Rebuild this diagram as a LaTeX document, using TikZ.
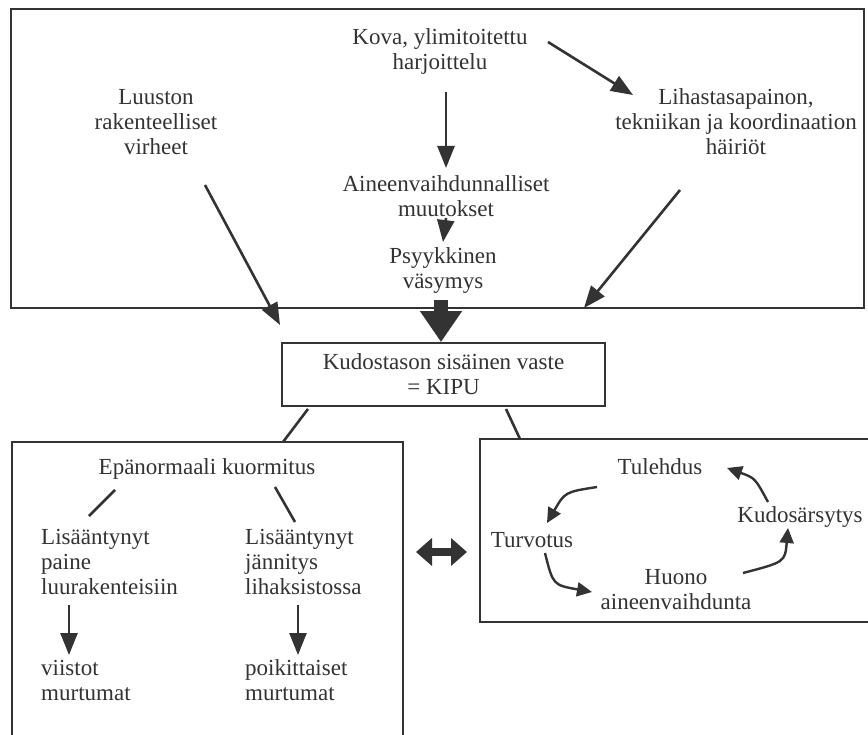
\documentclass[tikz,border=0pt]{standalone}
\usepackage{fontspec}
\setmainfont{Liberation Serif}
\usetikzlibrary{arrows.meta,calc}
\definecolor{ink}{HTML}{333333}
\begin{document}
\begin{tikzpicture}[x=1pt,y=-1pt,
  txt/.style={font=\fontsize{23}{25}\selectfont, align=center, inner sep=1pt, text=ink},
  ltxt/.style={txt, align=left, anchor=west},
  frame/.style={draw=ink, line width=1.8pt, inner sep=0pt},
  arr/.style={draw=ink, line width=2.6pt, -{Triangle[length=22pt,width=17pt]}},
  bigarr/.style={draw=ink, line width=14pt, -{Triangle[length=31pt,width=40pt]}},
  dblarr/.style={draw=ink, line width=8pt, {Triangle[length=16pt,width=27pt]}-{Triangle[length=16pt,width=27pt]}},
  link/.style={draw=ink, line width=2.6pt},
  carr/.style={draw=ink, line width=2.4pt, -{Triangle[length=15pt,width=14pt]}}]
\useasboundingbox (0,0) rectangle (868,735);
\fill[white] (0,0) rectangle (868,735);
\clip (0,0) rectangle (868,735);

% frames
\node[frame, minimum width=853pt, minimum height=299pt] (topbox) at (437.5,158.5) {};
\node[frame, minimum width=391pt, minimum height=318pt] (lbox) at (207.5,601) {};
\node[frame, minimum width=420pt, minimum height=183pt] (rbox) at (690,530.5) {};

% top texts
\node[txt] (kova) at (440,51) {Kova, ylimitoitettu\\harjoittelu};
\node[txt] (luu) at (156,122) {Luuston\\rakenteelliset\\virheet};
\node[txt] (lih) at (736,122) {Lihastasapainon,\\tekniikan ja koordinaation\\häiriöt};
\node[txt] (aine) at (446,196) {Aineenvaihdunnalliset\\muutokset};
\node[txt] (psyk) at (443,271) {Psyykkinen\\väsymys};
\node[txt, draw=ink, line width=1.8pt, minimum width=323pt, minimum height=63pt] (kipu) at (443.5,374.5) {Kudostason sisäinen vaste\\= KIPU};

% left box texts
\node[txt] (epa) at (207,469) {Epänormaali kuormitus};
\node[ltxt] (lis1) at (40,562) {Lisääntynyt\\paine\\luurakenteisiin};
\node[ltxt] (lis2) at (244,562) {Lisääntynyt\\jännitys\\lihaksistossa};
\node[ltxt] (vii) at (40,680) {viistot\\murtumat};
\node[ltxt] (poi) at (244,680) {poikittaiset\\murtumat};

% right box texts
\node[txt] (tul) at (660,467) {Tulehdus};
\node[txt] (kud) at (800,517) {Kudosärsytys};
\node[txt] (tur) at (532,540) {Turvotus};
\node[txt] (huo) at (676,589.5) {Huono\\aineenvaihdunta};

% top connectors
\draw[arr] ($(kova)+(108,-9)$) -- ($(lih)+(-103,-27)$);
\draw[arr] ($(kova)+(6,41)$) -- ($(aine)+(0,-28)$);
\draw[arr] ($(aine)+(0,22)$) -- ($(psyk)+(0,-29)$);
\draw[arr] ($(luu)+(49,63)$) -- ($(kipu)+(-163.5,-49.5)$);
\draw[arr] ($(lih)+(-56,68)$) -- ($(kipu)+(140.5,-66.5)$);
\draw[bigarr] ($(psyk)+(-2,29)$) -- ($(kipu.north)+(-2.5,0)$);

% kipu to boxes
\draw[link] ($(kipu)+(-135.5,34.5)$) -- ($(lbox)+(75.5,-159)$);
\draw[link] ($(kipu)+(62.5,34.5)$) -- ($(rbox)+(-170,-91.5)$);

% left box connectors
\draw[link] ($(epa)+(-92,21)$) -- ($(lis1.west)+(49,-46)$);
\draw[link] ($(epa)+(68,18)$) -- ($(lis2.west)+(51,-40)$);
\draw[arr] ($(lis1.west)+(29,43)$) -- ($(vii.west)+(29,-25)$);
\draw[arr] ($(lis2.west)+(54,43)$) -- ($(poi.west)+(54,-25)$);

% double arrow
\draw[dblarr] ($(lbox)+(208.5,-49)$) -- ($(rbox)+(-223,21.5)$);

% cycle
\draw[carr] ($(tul)+(-63,20)$) .. controls (565,492) .. ($(tur)+(15,-17)$);
\draw[carr] ($(tur)+(13,13)$) .. controls (553,585) .. ($(huo)+(-84,2.5)$);
\draw[carr] ($(huo)+(67,-16.5)$) .. controls (785,562) .. ($(kud)+(-12,11)$);
\draw[carr] ($(kud)+(-32,-15)$) .. controls (755,478) .. ($(tul)+(67,1)$);
\end{tikzpicture}
\end{document}
